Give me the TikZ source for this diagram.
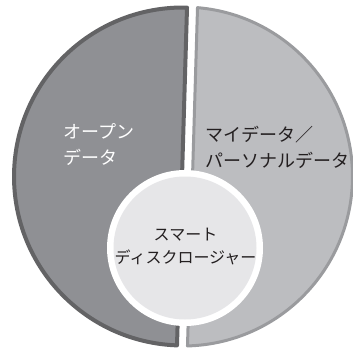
\documentclass[tikz,border=0pt]{standalone}
\usepackage{fontspec}
\newfontfamily\jp{Noto Sans CJK JP}
\definecolor{leftfill}{HTML}{8F9094}
\definecolor{leftline}{HTML}{636365}
\definecolor{rightfill}{HTML}{BCBDC0}
\definecolor{rightline}{HTML}{9A9B9E}
\definecolor{innerfill}{HTML}{E6E6E8}
\definecolor{inkdark}{HTML}{231F20}
\tikzset{
  leftpiece/.style={fill=leftfill,draw=leftline,line width=4pt,line join=round},
  rightpiece/.style={fill=rightfill,draw=rightline,line width=3pt,line join=round},
  ringwhite/.style={circle,fill=white,minimum size=156pt,inner sep=0pt},
  innerdisc/.style={circle,fill=innerfill,minimum size=143pt,inner sep=0pt},
  label/.style={inner sep=0pt,font=\jp\fontsize{18}{26}\selectfont},
}
\begin{document}
\begin{tikzpicture}[x=1pt,y=-1pt]
\useasboundingbox (0,0) rectangle (353,351);
\pgfmathsetmacro{\la}{acos(-1/169)}
\pgfmathsetmacro{\ra}{acos(9.5/169.5)}
\begin{scope}[shift={(183,176.5)},rotate=-1.7]
  \path[leftpiece] (\la:169) arc[start angle=\la,end angle=360-\la,radius=169] -- cycle;
  \path[rightpiece] (-\ra:169.5) arc[start angle=-\ra,end angle=\ra,radius=169.5] -- cycle;
\end{scope}
\node[ringwhite] (ring) at (185,248) {};
\node[innerdisc] (disc) at (ring.center) {};
\node[label,text=white,align=left,anchor=west] (open) at (63,145) {オープン\\データ};
\node[label,text=inkdark,align=left,anchor=west] (my) at (205,147) {マイデータ／\\パーソナルデータ};
\node[label,text=inkdark,align=center,font=\jp\fontsize{16}{23}\selectfont] (smart) at (185.5,247) {スマート\\ディスクロージャー};
\end{tikzpicture}
\end{document}
